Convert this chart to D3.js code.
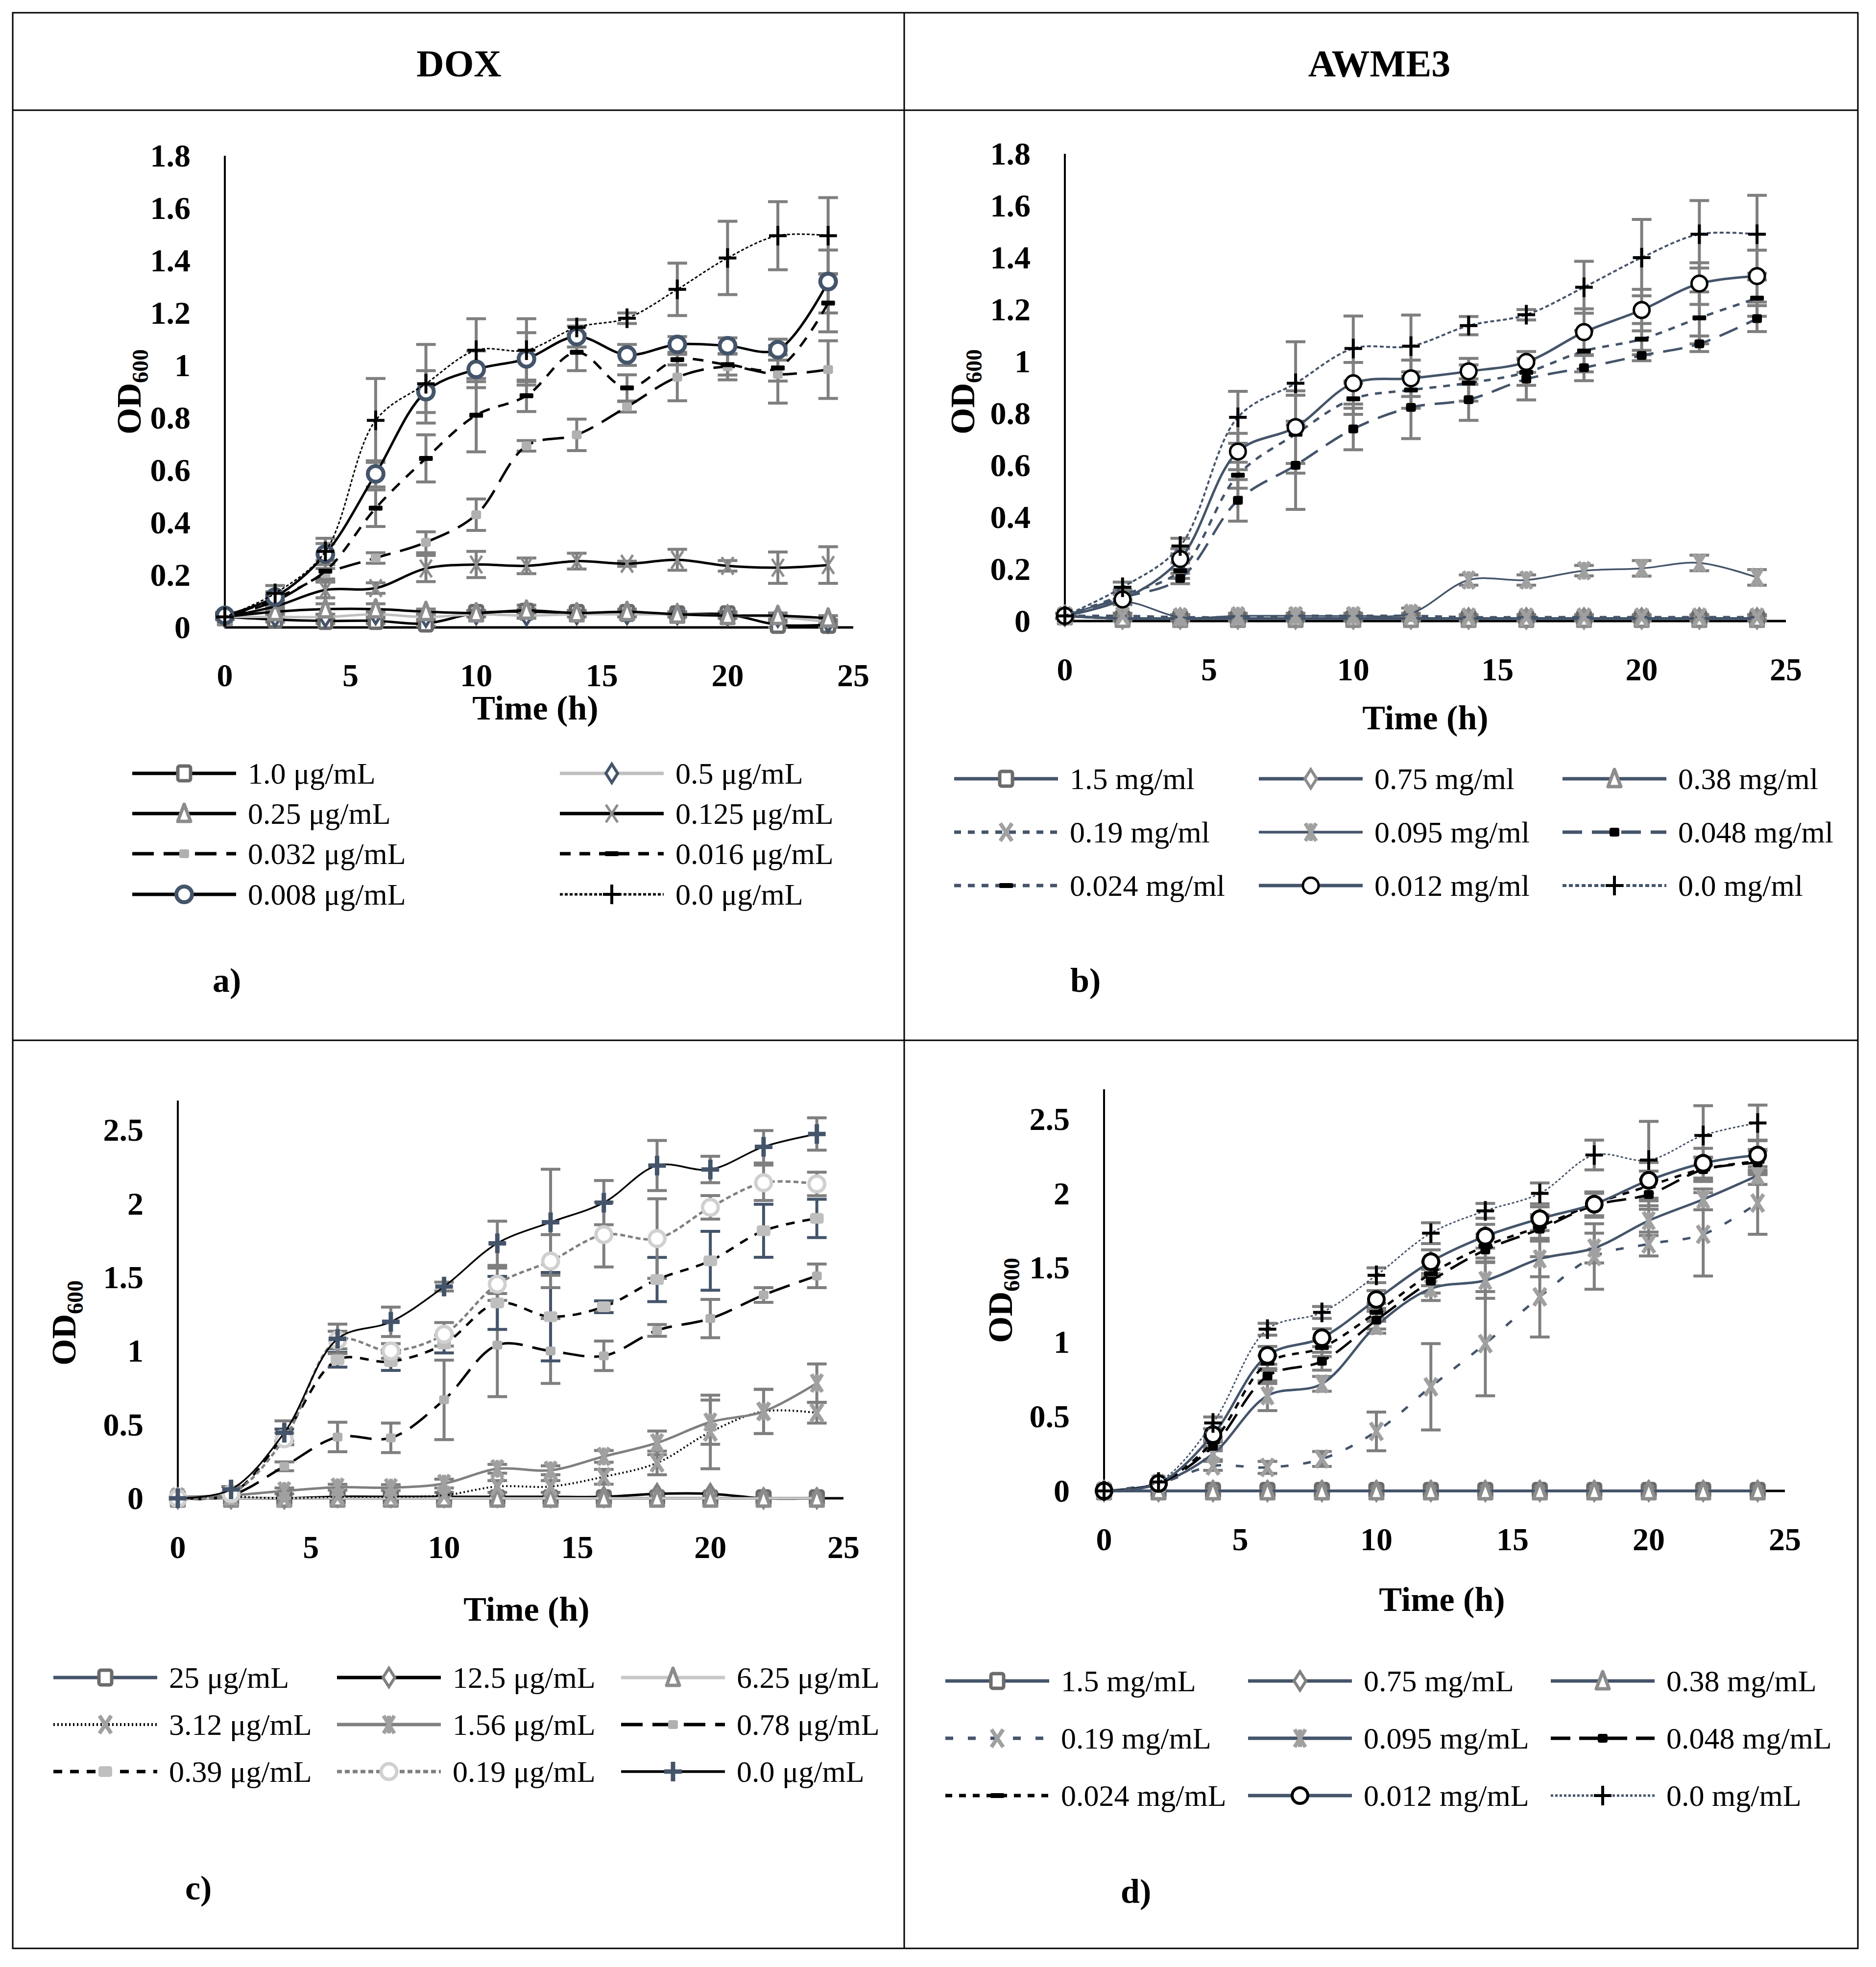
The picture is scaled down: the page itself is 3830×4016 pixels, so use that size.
<!DOCTYPE html>
<html>
<head>
<meta charset="utf-8">
<script src="https://cdn.jsdelivr.net/npm/d3@7"></script>
<style>
  body { margin: 0; background: #fff; }
  text { font-family: "Palatino Linotype", "Book Antiqua", Palatino, "Liberation Serif", serif; }
</style>
</head>
<body>
<div id="chart"></div>
<script>
// ---- data ----
var hours = [0, 2, 4, 6, 8, 10, 12, 14, 16, 18, 20, 22, 24];
var hourTicks = [0, 5, 10, 15, 20, 25];
var odTicksTop = [0, 0.2, 0.4, 0.6, 0.8, 1, 1.2, 1.4, 1.6, 1.8];
var odTicksBottom = [0, 0.5, 1, 1.5, 2, 2.5];
var headers = ["DOX", "AWME3"];

// a) DOX
var labelsA = ["1.0 μg/mL", "0.5 μg/mL", "0.25 μg/mL", "0.125 μg/mL", "0.032 μg/mL", "0.016 μg/mL", "0.008 μg/mL", "0.0 μg/mL"];
var meansA = [
  [0.04, 0.03, 0.025, 0.025, 0.015, 0.055, 0.06, 0.055, 0.055, 0.05, 0.05, 0.01, 0.01],
  [0.04, 0.04, 0.04, 0.05, 0.04, 0.05, 0.045, 0.05, 0.05, 0.05, 0.045, 0.04, 0.02],
  [0.04, 0.06, 0.07, 0.07, 0.06, 0.055, 0.065, 0.055, 0.06, 0.05, 0.045, 0.045, 0.035],
  [0.04, 0.08, 0.143, 0.15, 0.225, 0.24, 0.235, 0.253, 0.243, 0.258, 0.235, 0.228, 0.238],
  [0.04, 0.10, 0.205, 0.265, 0.325, 0.43, 0.693, 0.735, 0.842, 0.955, 0.995, 0.966, 0.984],
  [0.04, 0.11, 0.215, 0.455, 0.645, 0.81, 0.884, 1.05, 0.914, 1.022, 1.003, 0.99, 1.238],
  [0.046, 0.116, 0.28, 0.586, 0.9, 0.985, 1.025, 1.11, 1.04, 1.08, 1.075, 1.06, 1.32],
  [0.04, 0.13, 0.29, 0.79, 0.93, 1.058, 1.058, 1.145, 1.18, 1.29, 1.41, 1.495, 1.495]
];
var errorsA = [
  [0.01, 0.01, 0.01, 0.01, 0.01, 0.01, 0.01, 0.01, 0.01, 0.01, 0.01, 0.01, 0.01],
  [0.01, 0.01, 0.01, 0.01, 0.01, 0.01, 0.01, 0.01, 0.01, 0.01, 0.01, 0.01, 0.01],
  [0.01, 0.01, 0.02, 0.02, 0.01, 0.01, 0.02, 0.01, 0.01, 0.01, 0.01, 0.01, 0.01],
  [0.01, 0.02, 0.03, 0.02, 0.05, 0.05, 0.03, 0.03, 0.01, 0.04, 0.02, 0.06, 0.07],
  [0.01, 0.02, 0.02, 0.02, 0.04, 0.06, 0.02, 0.06, 0.02, 0.09, 0.05, 0.11, 0.11],
  [0.01, 0.02, 0.04, 0.07, 0.09, 0.14, 0.06, 0.07, 0.05, 0.02, 0.04, 0.05, 0.11],
  [0.01, 0.02, 0.04, 0.05, 0.08, 0.07, 0.1, 0.04, 0.04, 0.03, 0.03, 0.04, 0.12],
  [0.01, 0.03, 0.05, 0.16, 0.15, 0.12, 0.12, 0.03, 0.02, 0.1, 0.14, 0.13, 0.145]
];

// b) AWME3
var labelsB = ["1.5 mg/ml", "0.75 mg/ml", "0.38 mg/ml", "0.19 mg/ml", "0.095 mg/ml", "0.048 mg/ml", "0.024 mg/ml", "0.012 mg/ml", "0.0 mg/ml"];
var meansB = [
  [0.02, 0.01, 0.01, 0.01, 0.01, 0.01, 0.01, 0.01, 0.01, 0.01, 0.01, 0.01, 0.01],
  [0.02, 0.01, 0.01, 0.01, 0.01, 0.01, 0.01, 0.01, 0.01, 0.01, 0.01, 0.01, 0.01],
  [0.02, 0.01, 0.01, 0.01, 0.01, 0.01, 0.01, 0.01, 0.01, 0.01, 0.01, 0.01, 0.01],
  [0.02, 0.02, 0.015, 0.015, 0.02, 0.02, 0.02, 0.015, 0.015, 0.015, 0.015, 0.015, 0.015],
  [0.02, 0.075, 0.015, 0.02, 0.02, 0.02, 0.03, 0.158, 0.158, 0.194, 0.203, 0.224, 0.168],
  [0.02, 0.09, 0.164, 0.465, 0.6, 0.74, 0.823, 0.853, 0.932, 0.976, 1.023, 1.068, 1.165],
  [0.02, 0.1, 0.194, 0.562, 0.72, 0.856, 0.89, 0.917, 0.958, 1.04, 1.086, 1.168, 1.244],
  [0.02, 0.083, 0.239, 0.653, 0.747, 0.916, 0.935, 0.962, 0.998, 1.113, 1.198, 1.3, 1.329],
  [0.02, 0.13, 0.289, 0.785, 0.916, 1.05, 1.059, 1.138, 1.18, 1.286, 1.4, 1.49, 1.49]
];
var errorsB = [
  [0.01, 0.01, 0.01, 0.01, 0.01, 0.01, 0.01, 0.01, 0.01, 0.01, 0.01, 0.01, 0.01],
  [0.01, 0.01, 0.01, 0.01, 0.01, 0.01, 0.01, 0.01, 0.01, 0.01, 0.01, 0.01, 0.01],
  [0.01, 0.01, 0.01, 0.01, 0.01, 0.01, 0.01, 0.01, 0.01, 0.01, 0.01, 0.01, 0.01],
  [0.01, 0.01, 0.01, 0.01, 0.01, 0.01, 0.01, 0.01, 0.01, 0.01, 0.01, 0.01, 0.01],
  [0.01, 0.01, 0.01, 0.01, 0.01, 0.01, 0.02, 0.02, 0.02, 0.02, 0.03, 0.03, 0.03],
  [0.01, 0.02, 0.02, 0.08, 0.17, 0.08, 0.12, 0.08, 0.08, 0.05, 0.02, 0.03, 0.05],
  [0.01, 0.02, 0.03, 0.05, 0.15, 0.06, 0.07, 0.07, 0.05, 0.08, 0.06, 0.1, 0.07],
  [0.01, 0.02, 0.04, 0.07, 0.14, 0.08, 0.07, 0.05, 0.04, 0.09, 0.08, 0.08, 0.1],
  [0.01, 0.02, 0.03, 0.1, 0.16, 0.125, 0.12, 0.035, 0.02, 0.1, 0.147, 0.13, 0.15]
];

// c) DOX
var labelsC = ["25 μg/mL", "12.5 μg/mL", "6.25 μg/mL", "3.12 μg/mL", "1.56 μg/mL", "0.78 μg/mL", "0.39 μg/mL", "0.19 μg/mL", "0.0 μg/mL"];
var meansC = [
  [0.0, 0.0, 0.0, 0.0, 0.0, 0.0, 0.0, 0.0, 0.0, 0.0, 0.0, 0.0, 0.0],
  [0.0, 0.0, 0.0, 0.01, 0.01, 0.01, 0.01, 0.01, 0.01, 0.03, 0.03, 0.0, 0.0],
  [0.0, 0.0, 0.0, 0.0, 0.0, 0.0, 0.0, 0.0, 0.0, 0.0, 0.0, 0.0, 0.0],
  [0.0, 0.01, 0.0, 0.01, 0.01, 0.02, 0.08, 0.08, 0.146, 0.24, 0.45, 0.59, 0.58],
  [0.01, 0.02, 0.05, 0.075, 0.072, 0.1, 0.2, 0.19, 0.284, 0.376, 0.517, 0.589, 0.782],
  [0.0, 0.02, 0.217, 0.416, 0.41, 0.668, 1.04, 1.0, 0.967, 1.14, 1.22, 1.38, 1.51],
  [0.0, 0.03, 0.43, 0.94, 0.928, 1.047, 1.326, 1.233, 1.3, 1.485, 1.612, 1.816, 1.9],
  [0.0, 0.03, 0.403, 1.074, 1.0, 1.113, 1.453, 1.61, 1.79, 1.763, 1.975, 2.142, 2.134],
  [0.0, 0.06, 0.445, 1.082, 1.198, 1.437, 1.731, 1.874, 2.007, 2.259, 2.232, 2.386, 2.473]
];
var errorsC = [
  [0.01, 0.01, 0.01, 0.01, 0.01, 0.01, 0.01, 0.01, 0.01, 0.01, 0.01, 0.01, 0.01],
  [0.01, 0.01, 0.01, 0.01, 0.01, 0.01, 0.01, 0.01, 0.01, 0.01, 0.01, 0.01, 0.01],
  [0.01, 0.01, 0.01, 0.01, 0.01, 0.01, 0.01, 0.01, 0.01, 0.01, 0.01, 0.01, 0.01],
  [0.0, 0.01, 0.01, 0.01, 0.01, 0.02, 0.04, 0.04, 0.05, 0.08, 0.25, 0.15, 0.07],
  [0.0, 0.01, 0.02, 0.02, 0.02, 0.03, 0.03, 0.03, 0.04, 0.08, 0.15, 0.15, 0.13],
  [0.0, 0.01, 0.03, 0.1, 0.1, 0.27, 0.35, 0.22, 0.1, 0.04, 0.13, 0.05, 0.08],
  [0.0, 0.01, 0.04, 0.05, 0.06, 0.06, 0.18, 0.3, 0.04, 0.15, 0.2, 0.18, 0.13],
  [0.0, 0.01, 0.04, 0.06, 0.05, 0.08, 0.11, 0.18, 0.22, 0.27, 0.08, 0.12, 0.08],
  [0.0, 0.02, 0.08, 0.1, 0.1, 0.03, 0.15, 0.36, 0.15, 0.17, 0.09, 0.11, 0.11]
];

// d) AWME3
var labelsD = ["1.5 mg/mL", "0.75 mg/mL", "0.38 mg/mL", "0.19 mg/mL", "0.095 mg/mL", "0.048 mg/mL", "0.024 mg/mL", "0.012 mg/mL", "0.0 mg/mL"];
var meansD = [
  [0.0, 0.0, 0.0, 0.0, 0.0, 0.0, 0.0, 0.0, 0.0, 0.0, 0.0, 0.0, 0.0],
  [0.0, 0.0, 0.0, 0.0, 0.0, 0.0, 0.0, 0.0, 0.0, 0.0, 0.0, 0.0, 0.0],
  [0.0, 0.0, 0.0, 0.0, 0.0, 0.0, 0.0, 0.0, 0.0, 0.0, 0.0, 0.0, 0.0],
  [0.0, 0.05, 0.168, 0.158, 0.215, 0.4, 0.7, 0.99, 1.305, 1.576, 1.66, 1.725, 1.935],
  [0.0, 0.05, 0.25, 0.64, 0.72, 1.11, 1.36, 1.415, 1.56, 1.633, 1.817, 1.96, 2.12],
  [0.0, 0.05, 0.3, 0.772, 0.872, 1.148, 1.41, 1.62, 1.76, 1.92, 1.993, 2.16, 2.206],
  [0.0, 0.05, 0.33, 0.859, 0.964, 1.2, 1.46, 1.646, 1.778, 1.93, 2.05, 2.164, 2.216],
  [0.0, 0.05, 0.378, 0.911, 1.03, 1.287, 1.541, 1.712, 1.83, 1.928, 2.088, 2.203, 2.258],
  [0.0, 0.06, 0.457, 1.087, 1.2, 1.45, 1.733, 1.883, 2.0, 2.258, 2.224, 2.39, 2.474]
];
var errorsD = [
  [0.01, 0.01, 0.01, 0.01, 0.01, 0.01, 0.01, 0.01, 0.01, 0.01, 0.01, 0.01, 0.01],
  [0.01, 0.01, 0.01, 0.01, 0.01, 0.01, 0.01, 0.01, 0.01, 0.01, 0.01, 0.01, 0.01],
  [0.01, 0.01, 0.01, 0.01, 0.01, 0.01, 0.01, 0.01, 0.01, 0.01, 0.01, 0.01, 0.01],
  [0.0, 0.01, 0.03, 0.04, 0.05, 0.13, 0.29, 0.35, 0.27, 0.22, 0.08, 0.28, 0.21],
  [0.0, 0.01, 0.04, 0.1, 0.05, 0.05, 0.08, 0.12, 0.12, 0.1, 0.1, 0.07, 0.06],
  [0.0, 0.01, 0.03, 0.05, 0.06, 0.06, 0.08, 0.08, 0.08, 0.08, 0.1, 0.08, 0.08],
  [0.0, 0.01, 0.03, 0.05, 0.06, 0.06, 0.08, 0.08, 0.08, 0.08, 0.1, 0.08, 0.08],
  [0.0, 0.01, 0.04, 0.06, 0.06, 0.06, 0.08, 0.08, 0.08, 0.08, 0.12, 0.1, 0.1],
  [0.0, 0.01, 0.04, 0.04, 0.04, 0.05, 0.07, 0.05, 0.07, 0.1, 0.26, 0.2, 0.12]
];

// ---- styles ----
var NAVY = "#44546a";
var styleA = [
  { line: "#000", w: 5, dash: null, m: "square", ms: "#6b6b6b", mf: "#fff" },
  { line: "#bfbfbf", w: 5, dash: null, m: "diamond", ms: NAVY, mf: "#fff" },
  { line: "#000", w: 5, dash: null, m: "triangle", ms: "#8c8c8c", mf: "#fff" },
  { line: "#000", w: 5, dash: null, m: "x", ms: "#8c8c8c", mf: "none" },
  { line: "#000", w: 5, dash: "44,20", m: "sqsmall", ms: "none", mf: "#b0b0b0" },
  { line: "#000", w: 5, dash: "22,18", m: "dash", ms: "none", mf: "#000" },
  { line: "#000", w: 5, dash: null, m: "circle", ms: NAVY, mf: "#fff", mw: 8 },
  { line: "#000", w: 3, dash: "6,4", m: "plus", ms: "#000", mf: "none" }
];
var styleB = [
  { line: NAVY, w: 5, dash: null, m: "square", ms: "#6b6b6b", mf: "#fff" },
  { line: NAVY, w: 5, dash: null, m: "diamond", ms: "#8c8c8c", mf: "#fff" },
  { line: NAVY, w: 5, dash: null, m: "triangle", ms: "#8c8c8c", mf: "#fff" },
  { line: NAVY, w: 5, dash: "14,14", m: "x", ms: "#a0a0a0", mf: "none", mw: 8 },
  { line: NAVY, w: 3.5, dash: null, m: "star", ms: "#a0a0a0", mf: "none", mw: 8 },
  { line: NAVY, w: 5, dash: "40,20", m: "sqsmall", ms: "none", mf: "#000" },
  { line: NAVY, w: 5, dash: "14,14", m: "dash", ms: "none", mf: "#000" },
  { line: NAVY, w: 5, dash: null, m: "circle", ms: "#000", mf: "#fff", mw: 5 },
  { line: NAVY, w: 4, dash: "8,5", m: "plus", ms: "#000", mf: "none" }
];
var styleC = [
  { line: NAVY, w: 5, dash: null, m: "square", ms: "#6b6b6b", mf: "#fff" },
  { line: "#000", w: 5, dash: null, m: "diamond", ms: "#808080", mf: "#fff" },
  { line: "#c8c8c8", w: 5, dash: null, m: "triangle", ms: "#8c8c8c", mf: "#fff" },
  { line: "#000", w: 4, dash: "3,5", m: "x", ms: "#a0a0a0", mf: "none", mw: 8 },
  { line: "#808080", w: 5, dash: null, m: "star", ms: "#a0a0a0", mf: "none", mw: 8 },
  { line: "#000", w: 5, dash: "44,20", m: "sqsmall", ms: "none", mf: "#b0b0b0" },
  { line: "#000", w: 5, dash: "18,16", m: "sqbig", ms: "none", mf: "#bfbfbf", err: NAVY },
  { line: "#808080", w: 5, dash: "10,6", m: "circle", ms: "#d0d0d0", mf: "#fff" },
  { line: "#000", w: 3.5, dash: null, m: "plus", ms: NAVY, mf: "none", mw: 9 }
];
var styleD = [
  { line: NAVY, w: 5, dash: null, m: "square", ms: "#6b6b6b", mf: "#fff" },
  { line: NAVY, w: 5, dash: null, m: "diamond", ms: "#808080", mf: "#fff" },
  { line: NAVY, w: 5, dash: null, m: "triangle", ms: "#8c8c8c", mf: "#fff" },
  { line: NAVY, w: 5, dash: "16,30", m: "x", ms: "#a0a0a0", mf: "none", mw: 8 },
  { line: NAVY, w: 5, dash: null, m: "star", ms: "#a0a0a0", mf: "none", mw: 8 },
  { line: "#000", w: 5, dash: "40,18", m: "sqsmall", ms: "none", mf: "#000" },
  { line: "#000", w: 5, dash: "14,14", m: "dash", ms: "none", mf: "#000" },
  { line: NAVY, w: 5, dash: null, m: "circle", ms: "#000", mf: "#fff", mw: 6 },
  { line: NAVY, w: 3, dash: "5,4", m: "plus", ms: "#000", mf: "none" }
];

// ---- layout ----
var W = 3830, H = 4016;
var svg = d3.select("#chart").append("svg")
  .attr("width", W).attr("height", H);

// table frame
var frame = svg.append("g").attr("stroke", "#000").attr("stroke-width", 3);
frame.append("rect").attr("x", 26).attr("y", 26).attr("width", 3767).attr("height", 3952).attr("fill", "none");
frame.append("line").attr("x1", 26).attr("x2", 3793).attr("y1", 225).attr("y2", 225);
frame.append("line").attr("x1", 26).attr("x2", 3793).attr("y1", 2124).attr("y2", 2124);
frame.append("line").attr("x1", 1846).attr("x2", 1846).attr("y1", 26).attr("y2", 3978);

svg.selectAll(".hdr").data(headers).enter().append("text")
  .attr("x", function(d, i) { return i === 0 ? 937 : 2816; })
  .attr("y", 156)
  .attr("text-anchor", "middle")
  .style("font-size", "78px").style("font-weight", "bold")
  .text(function(d) { return d; });

var drawMarker = function(g, type, x, y, st) {
  var sw = st.mw || 7;
  var s;
  if (type === "square") {
    s = g.append("rect").attr("x", x - 13).attr("y", y - 15).attr("width", 26).attr("height", 30).attr("rx", 4);
  } else if (type === "diamond") {
    s = g.append("path").attr("d", "M" + x + "," + (y - 19) + "L" + (x + 12) + "," + y + "L" + x + "," + (y + 19) + "L" + (x - 12) + "," + y + "Z");
    sw = st.mw || 6;
  } else if (type === "triangle") {
    s = g.append("path").attr("d", "M" + x + "," + (y - 19) + "L" + (x + 13) + "," + (y + 16) + "L" + (x - 13) + "," + (y + 16) + "Z")
      .attr("stroke-linejoin", "round");
  } else if (type === "x") {
    s = g.append("path").attr("d", "M" + (x - 12) + "," + (y - 18) + "L" + (x + 12) + "," + (y + 18) + "M" + (x + 12) + "," + (y - 18) + "L" + (x - 12) + "," + (y + 18));
    sw = st.mw || 5;
  } else if (type === "star") {
    s = g.append("path").attr("d", "M" + (x - 11) + "," + (y - 18) + "L" + (x + 11) + "," + (y + 18) + "M" + (x + 11) + "," + (y - 18) + "L" + (x - 11) + "," + (y + 18) +
      "M" + x + "," + (y - 18) + "L" + x + "," + (y + 18));
    sw = st.mw || 6;
  } else if (type === "sqsmall") {
    s = g.append("rect").attr("x", x - 10).attr("y", y - 9).attr("width", 20).attr("height", 18).attr("rx", 4);
  } else if (type === "sqbig") {
    s = g.append("rect").attr("x", x - 14).attr("y", y - 11).attr("width", 28).attr("height", 22).attr("rx", 5);
  } else if (type === "dash") {
    s = g.append("rect").attr("x", x - 14).attr("y", y - 5).attr("width", 28).attr("height", 10).attr("rx", 2);
  } else if (type === "circle") {
    s = g.append("circle").attr("cx", x).attr("cy", y).attr("r", 16);
  } else if (type === "plus") {
    s = g.append("path").attr("d", "M" + (x - 18) + "," + y + "L" + (x + 18) + "," + y + "M" + x + "," + (y - 20) + "L" + x + "," + (y + 20));
    sw = st.mw || 6;
  }
  s.attr("fill", st.mf).attr("stroke", st.ms).attr("stroke-width", sw);
};

var drawPanel = function(p) {
  var x = d3.scaleLinear().domain([0, 25]).range([p.x0, p.x1]);
  var y = d3.scaleLinear().domain([0, p.ymax]).range([p.y0, p.y1]);
  var g = svg.append("g");

  // axis lines
  g.append("line").attr("x1", x(0)).attr("x2", x(0)).attr("y1", y(0)).attr("y2", y(p.ymax))
    .attr("stroke", "#000").attr("stroke-width", 4);
  g.append("line").attr("x1", x(0)).attr("x2", x(25)).attr("y1", y(0)).attr("y2", y(0))
    .attr("stroke", "#000").attr("stroke-width", 5);

  // tick labels
  g.selectAll(".yt").data(p.yticks).enter().append("text")
    .attr("x", x(0) - 70).attr("y", function(d) { return y(d) + 22; })
    .attr("text-anchor", "end")
    .style("font-size", "66px").style("font-weight", "bold")
    .text(function(d) { return String(d); });
  g.selectAll(".xt").data(hourTicks).enter().append("text")
    .attr("x", function(d) { return x(d); }).attr("y", p.xlabY + 23)
    .attr("text-anchor", "middle")
    .style("font-size", "66px").style("font-weight", "bold")
    .text(function(d) { return String(d); });

  // axis titles
  g.append("text").attr("x", p.timeX).attr("y", p.timeY + 23)
    .attr("text-anchor", "middle")
    .style("font-size", "70px").style("font-weight", "bold")
    .text("Time (h)");
  var od = g.append("text")
    .attr("transform", "translate(" + p.odX + "," + p.odY + ") rotate(-90)")
    .attr("text-anchor", "middle")
    .style("font-size", "70px").style("font-weight", "bold");
  od.append("tspan").attr("dy", 24).text("OD");
  od.append("tspan").attr("dy", 15).style("font-size", "46px").text("600");

  // error bars
  p.means.forEach(function(series, si) {
    var st = p.styles[si];
    var eg = g.append("g").attr("stroke", st.err || "#7f7f7f").attr("stroke-width", 6);
    series.forEach(function(v, i) {
      var e = p.errors[si][i];
      var cx = x(hours[i]);
      var ya = y(Math.max(v - e, 0)), yb = y(v + e);
      if (Math.abs(ya - yb) < 8) return;
      eg.append("line").attr("x1", cx).attr("x2", cx).attr("y1", ya).attr("y2", yb);
      eg.append("line").attr("x1", cx - 20).attr("x2", cx + 20).attr("y1", yb).attr("y2", yb);
      eg.append("line").attr("x1", cx - 20).attr("x2", cx + 20).attr("y1", ya).attr("y2", ya);
    });
  });

  // lines and markers
  var lineGen = d3.line()
    .x(function(d, i) { return x(hours[i]); })
    .y(function(d) { return y(d); })
    .curve(d3.curveCatmullRom.alpha(0.5));
  p.means.forEach(function(series, si) {
    var st = p.styles[si];
    g.append("path").datum(series)
      .attr("d", lineGen)
      .attr("fill", "none")
      .attr("stroke", st.line)
      .attr("stroke-width", st.w)
      .attr("stroke-dasharray", st.dash);
    var mg = g.append("g");
    series.forEach(function(v, i) {
      drawMarker(mg, st.m, x(hours[i]), y(v), st);
    });
  });

  // legend
  var lg = svg.append("g");
  p.labels.forEach(function(lab, i) {
    var col = i % p.legCols.length;
    var row = Math.floor(i / p.legCols.length);
    var lx = p.legCols[col], ly = p.legRows[row];
    var st = p.styles[i];
    lg.append("line").attr("x1", lx).attr("x2", lx + 212).attr("y1", ly).attr("y2", ly)
      .attr("stroke", st.line).attr("stroke-width", st.w + 2)
      .attr("stroke-dasharray", st.dash);
    drawMarker(lg, st.m, lx + 106, ly, st);
    lg.append("text").attr("x", lx + 236).attr("y", ly + 21)
      .style("font-size", "62px")
      .text(lab);
  });

  svg.append("text").attr("x", p.tagX).attr("y", p.tagY)
    .style("font-size", "70px").style("font-weight", "bold")
    .text(p.tag);
};

drawPanel({
  x0: 459, x1: 1742, y0: 1281, y1: 318, ymax: 1.8, yticks: odTicksTop,
  xlabY: 1378, timeX: 1093, timeY: 1446, odX: 263, odY: 800,
  means: meansA, errors: errorsA, styles: styleA, labels: labelsA,
  legCols: [270, 1143], legRows: [1579, 1661, 1743, 1826],
  tag: "a)", tagX: 434, tagY: 2025
});
drawPanel({
  x0: 2174, x1: 3646, y0: 1268, y1: 314, ymax: 1.8, yticks: odTicksTop,
  xlabY: 1366, timeX: 2910, timeY: 1466, odX: 1965, odY: 800,
  means: meansB, errors: errorsB, styles: styleB, labels: labelsB,
  legCols: [1948, 2570, 3190], legRows: [1590, 1699, 1808],
  tag: "b)", tagX: 2185, tagY: 2025
});
drawPanel({
  x0: 363, x1: 1722, y0: 3059, y1: 2247, ymax: 2.7, yticks: odTicksBottom,
  xlabY: 3158, timeX: 1075, timeY: 3286, odX: 130, odY: 2701,
  means: meansC, errors: errorsC, styles: styleC, labels: labelsC,
  legCols: [109, 688, 1268], legRows: [3425, 3521, 3617],
  tag: "c)", tagX: 378, tagY: 3878
});
drawPanel({
  x0: 2254, x1: 3644, y0: 3044, y1: 2224, ymax: 2.7, yticks: odTicksBottom,
  xlabY: 3142, timeX: 2944, timeY: 3266, odX: 2042, odY: 2655,
  means: meansD, errors: errorsD, styles: styleD, labels: labelsD,
  legCols: [1930, 2548, 3166], legRows: [3432, 3549, 3666],
  tag: "d)", tagX: 2288, tagY: 3885
});
</script>
</body>
</html>
